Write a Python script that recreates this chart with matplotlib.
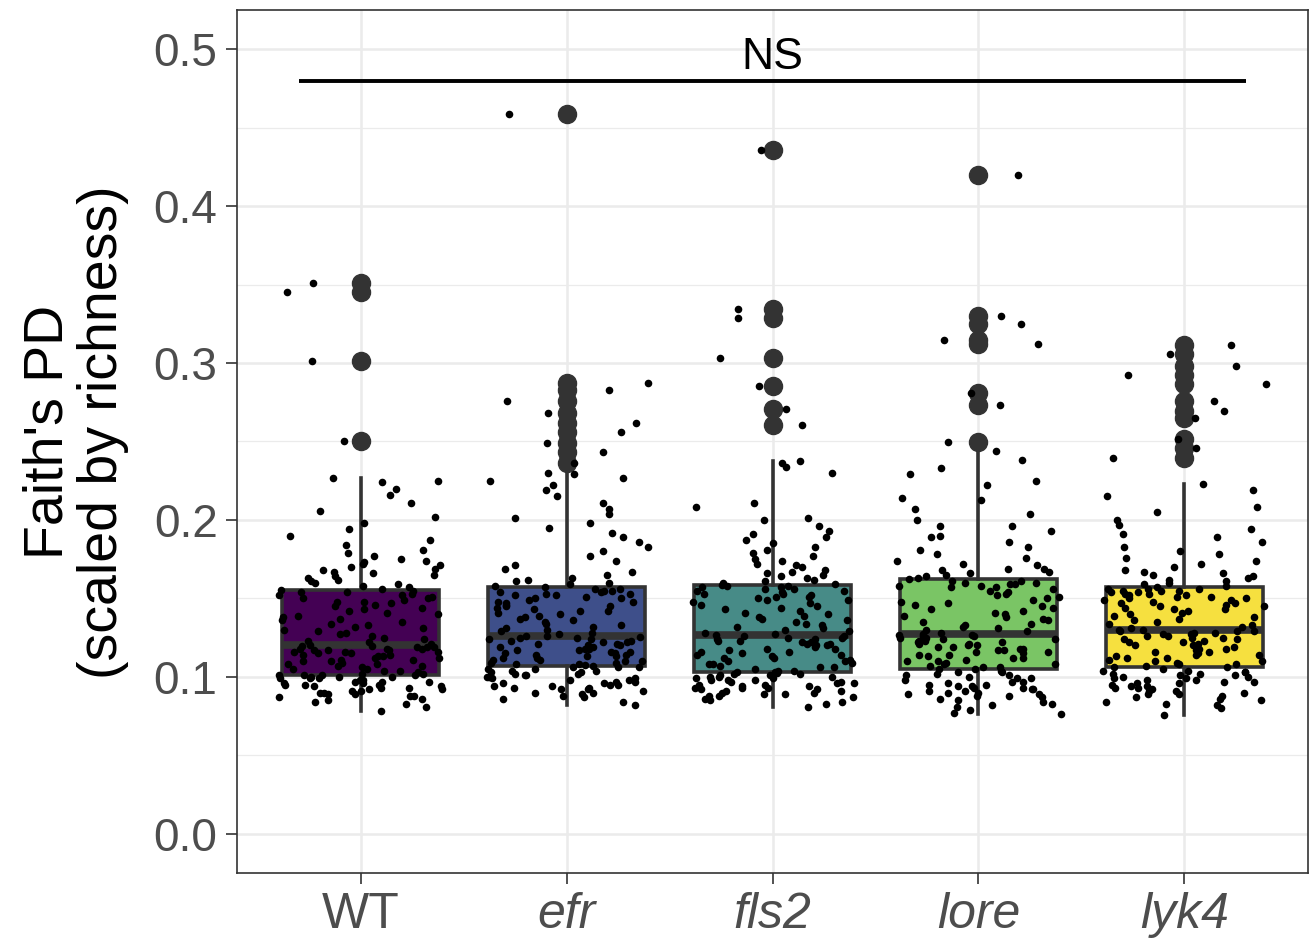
import numpy as np
import matplotlib
matplotlib.use("Agg")
import matplotlib.pyplot as plt
from matplotlib.ticker import MultipleLocator

plt.rcParams['font.family'] = ['Liberation Sans', 'DejaVu Sans']

# Faith's PD (scaled by richness) per genotype
genotypes = ["WT", "efr", "fls2", "lore", "lyk4"]
italic = [False, True, True, True, True]
box_colors = ["#440154", "#3E4F8A", "#478B87", "#7AC565", "#F6E03F"]

wt = [
    0.078, 0.081, 0.083, 0.084, 0.085, 0.086, 0.087, 0.088, 0.088, 0.089,
    0.089, 0.090, 0.090, 0.091, 0.091, 0.092, 0.092, 0.093, 0.093, 0.094,
    0.094, 0.095, 0.095, 0.095, 0.096, 0.096, 0.097, 0.097, 0.097, 0.098,
    0.098, 0.099, 0.099, 0.099, 0.100, 0.100, 0.100, 0.101, 0.101, 0.101,
    0.1015,
    0.102, 0.102, 0.103, 0.104, 0.104, 0.105, 0.105, 0.106, 0.107, 0.107,
    0.108, 0.108, 0.109, 0.110, 0.110, 0.111, 0.111, 0.112, 0.112, 0.113,
    0.113, 0.114, 0.114, 0.115, 0.115, 0.116, 0.116, 0.116, 0.117, 0.117,
    0.117, 0.118, 0.118, 0.118, 0.119, 0.119, 0.119, 0.1195, 0.1198,
    0.120,
    0.121, 0.122, 0.123, 0.124, 0.125, 0.126, 0.127, 0.128, 0.129, 0.130,
    0.131, 0.132, 0.133, 0.134, 0.135, 0.136, 0.137, 0.138, 0.139, 0.140,
    0.141, 0.142, 0.143, 0.144, 0.145, 0.146, 0.147, 0.148, 0.148, 0.149,
    0.150, 0.150, 0.151, 0.152, 0.152, 0.153, 0.154, 0.154, 0.155,
    0.1555,
    0.156, 0.157, 0.158, 0.159, 0.160, 0.161, 0.162, 0.163, 0.164, 0.165,
    0.166, 0.167, 0.168, 0.169, 0.170, 0.171, 0.172, 0.173, 0.174, 0.175,
    0.177, 0.179, 0.181, 0.184, 0.187, 0.190, 0.194, 0.198, 0.202, 0.206,
    0.211, 0.216, 0.220, 0.224, 0.225, 0.2265,
    0.2506, 0.301, 0.345, 0.351,
]

efr = [
    0.082, 0.084, 0.086, 0.087, 0.088, 0.089, 0.090, 0.090, 0.091, 0.092,
    0.092, 0.093, 0.093, 0.094, 0.094, 0.095, 0.095, 0.096, 0.096, 0.097,
    0.097, 0.098, 0.098, 0.099, 0.099, 0.100, 0.100, 0.101, 0.101, 0.102,
    0.102, 0.103, 0.103, 0.104, 0.104, 0.105, 0.105, 0.106, 0.106, 0.1065,
    0.107,
    0.1075, 0.108, 0.108, 0.109, 0.109, 0.110, 0.110, 0.111, 0.111, 0.112,
    0.112, 0.113, 0.113, 0.114, 0.114, 0.115, 0.115, 0.116, 0.116, 0.117,
    0.117, 0.118, 0.118, 0.119, 0.119, 0.120, 0.120, 0.121, 0.121, 0.122,
    0.122, 0.123, 0.123, 0.124, 0.124, 0.125, 0.125, 0.1255, 0.1258,
    0.126,
    0.127, 0.128, 0.129, 0.130, 0.131, 0.132, 0.133, 0.134, 0.135, 0.136,
    0.137, 0.138, 0.139, 0.140, 0.141, 0.142, 0.142, 0.143, 0.144, 0.145,
    0.145, 0.146, 0.147, 0.148, 0.148, 0.149, 0.150, 0.150, 0.151, 0.152,
    0.152, 0.153, 0.153, 0.154, 0.154, 0.155, 0.155, 0.156, 0.156,
    0.157,
    0.158, 0.159, 0.160, 0.161, 0.162, 0.163, 0.165, 0.167, 0.169, 0.171,
    0.174, 0.177, 0.180, 0.183, 0.186, 0.189, 0.192, 0.195, 0.198, 0.201,
    0.204, 0.207, 0.211, 0.215, 0.219, 0.222, 0.225, 0.227, 0.229, 0.230,
    0.236, 0.243, 0.249, 0.256, 0.262, 0.268, 0.276, 0.283, 0.287, 0.459,
]

fls2 = [
    0.081, 0.083, 0.084, 0.085, 0.086, 0.087, 0.088, 0.088, 0.089, 0.089,
    0.090, 0.090, 0.091, 0.091, 0.092, 0.092, 0.093, 0.093, 0.093, 0.094,
    0.094, 0.095, 0.095, 0.096, 0.096, 0.097, 0.097, 0.098, 0.098, 0.098,
    0.099, 0.099, 0.100, 0.100, 0.100, 0.101, 0.101, 0.102, 0.102, 0.1025,
    0.1028,
    0.103, 0.104, 0.104, 0.105, 0.106, 0.106, 0.107, 0.108, 0.108, 0.109,
    0.110, 0.110, 0.111, 0.112, 0.112, 0.113, 0.114, 0.114, 0.115, 0.116,
    0.116, 0.117, 0.118, 0.118, 0.119, 0.120, 0.120, 0.121, 0.121, 0.122,
    0.122, 0.123, 0.123, 0.124, 0.124, 0.125, 0.125, 0.126, 0.126,
    0.1265,
    0.127, 0.128, 0.129, 0.130, 0.131, 0.132, 0.133, 0.134, 0.135, 0.136,
    0.137, 0.138, 0.139, 0.140, 0.141, 0.142, 0.143, 0.144, 0.145, 0.146,
    0.147, 0.148, 0.149, 0.149, 0.150, 0.151, 0.151, 0.152, 0.153, 0.153,
    0.154, 0.155, 0.155, 0.156, 0.156, 0.157, 0.157, 0.158, 0.158,
    0.1587,
    0.159, 0.160, 0.161, 0.162, 0.163, 0.164, 0.165, 0.166, 0.167, 0.168,
    0.170, 0.171, 0.172, 0.174, 0.175, 0.177, 0.179, 0.181, 0.183, 0.185,
    0.187, 0.189, 0.191, 0.193, 0.196, 0.200, 0.201, 0.208, 0.211, 0.230,
    0.234, 0.236, 0.2373,
    0.2602, 0.2706, 0.2855, 0.3034, 0.329, 0.3343, 0.4356,
]

lore = [
    0.0765, 0.077, 0.079, 0.081, 0.082, 0.083, 0.084, 0.085, 0.086, 0.087,
    0.088, 0.088, 0.089, 0.089, 0.090, 0.090, 0.091, 0.091, 0.092, 0.092,
    0.093, 0.093, 0.094, 0.094, 0.095, 0.095, 0.096, 0.097, 0.097, 0.098,
    0.099, 0.099, 0.100, 0.101, 0.101, 0.102, 0.103, 0.103, 0.104, 0.105,
    0.1053,
    0.106, 0.106, 0.107, 0.108, 0.108, 0.109, 0.110, 0.110, 0.111, 0.112,
    0.112, 0.113, 0.114, 0.114, 0.115, 0.116, 0.116, 0.117, 0.117, 0.118,
    0.118, 0.119, 0.119, 0.120, 0.120, 0.121, 0.121, 0.122, 0.122, 0.123,
    0.123, 0.124, 0.124, 0.125, 0.125, 0.126, 0.126, 0.1265, 0.1268,
    0.127,
    0.128, 0.129, 0.130, 0.131, 0.132, 0.133, 0.134, 0.135, 0.136, 0.137,
    0.138, 0.139, 0.140, 0.141, 0.142, 0.143, 0.144, 0.145, 0.146, 0.147,
    0.148, 0.149, 0.150, 0.151, 0.152, 0.153, 0.154, 0.155, 0.156, 0.157,
    0.157, 0.158, 0.158, 0.159, 0.159, 0.160, 0.160, 0.161, 0.161,
    0.1622,
    0.163, 0.164, 0.165, 0.166, 0.167, 0.168, 0.169, 0.169, 0.171, 0.172,
    0.174, 0.176, 0.178, 0.181, 0.183, 0.186, 0.189, 0.190, 0.193, 0.196,
    0.196, 0.200, 0.204, 0.207, 0.213, 0.214, 0.222, 0.225, 0.229, 0.233,
    0.238, 0.244,
    0.250, 0.2734, 0.2806, 0.312, 0.3147, 0.325, 0.330, 0.4198,
]

lyk4 = [
    0.076, 0.080, 0.082, 0.083, 0.084, 0.085, 0.086, 0.087, 0.088, 0.089,
    0.089, 0.090, 0.091, 0.091, 0.092, 0.093, 0.093, 0.094, 0.094, 0.095,
    0.096, 0.096, 0.097, 0.097, 0.098, 0.098, 0.099, 0.099, 0.100, 0.100,
    0.101, 0.101, 0.102, 0.102, 0.103, 0.103, 0.104, 0.104, 0.105, 0.106,
    0.1064,
    0.107, 0.108, 0.108, 0.109, 0.110, 0.110, 0.111, 0.112, 0.112, 0.113,
    0.114, 0.114, 0.115, 0.116, 0.116, 0.117, 0.118, 0.118, 0.119, 0.120,
    0.120, 0.121, 0.122, 0.122, 0.123, 0.124, 0.124, 0.125, 0.125, 0.126,
    0.126, 0.127, 0.127, 0.128, 0.128, 0.129, 0.129, 0.1295, 0.1298,
    0.130,
    0.131, 0.132, 0.133, 0.134, 0.135, 0.136, 0.137, 0.138, 0.139, 0.140,
    0.141, 0.142, 0.143, 0.143, 0.144, 0.145, 0.145, 0.146, 0.147, 0.147,
    0.148, 0.149, 0.149, 0.150, 0.150, 0.151, 0.151, 0.152, 0.152, 0.153,
    0.153, 0.154, 0.154, 0.155, 0.155, 0.155, 0.156, 0.156, 0.156,
    0.157,
    0.158, 0.159, 0.160, 0.161, 0.162, 0.163, 0.164, 0.165, 0.166, 0.167,
    0.168, 0.170, 0.172, 0.174, 0.176, 0.178, 0.180, 0.183, 0.186, 0.189,
    0.191, 0.194, 0.197, 0.200, 0.205, 0.208, 0.215, 0.219, 0.2227,
    0.2398, 0.2460, 0.2513, 0.2648, 0.2692, 0.2756, 0.2868, 0.2925, 0.2978,
    0.306, 0.3115,
]

groups = [wt, efr, fls2, lore, lyk4]

# significance bracket across all genotypes
sig_label = "NS"
sig_y = 0.48

GREY20 = "#333333"
GRID = "#EBEBEB"

fig = plt.figure(figsize=(13.1, 9.42), dpi=100)
ax = fig.add_axes([237 / 1310, 69 / 942, 1071 / 1310, 863 / 942])

positions = np.arange(1, len(genotypes) + 1)
bp = ax.boxplot(
    groups, positions=positions, widths=0.76, whis=1.5, patch_artist=True,
    boxprops=dict(edgecolor=GREY20, linewidth=2.6),
    medianprops=dict(color=GREY20, linewidth=5.5, solid_capstyle="butt"),
    whiskerprops=dict(color=GREY20, linewidth=2.6),
    capprops=dict(linewidth=0),
    flierprops=dict(marker="o", markersize=13, markerfacecolor=GREY20,
                    markeredgecolor=GREY20),
    zorder=2,
)
for patch, c in zip(bp["boxes"], box_colors):
    patch.set_facecolor(c)

# horizontal jitter only (width 0.4 each side), fixed seed so the layout is stable
rng = np.random.default_rng(7)
for pos, vals in zip(positions, groups):
    offs = rng.uniform(-0.4, 0.4, len(vals))
    ax.scatter(pos + offs, vals, s=30, color="black", linewidths=0, zorder=3)

ax.plot([0.7, 5.3], [sig_y, sig_y], color="black", linewidth=2.8,
        solid_capstyle="butt", zorder=4)
ax.text(3, 0.4873, sig_label, ha="center", va="baseline", fontsize=32,
        color="black", zorder=4)

ax.set_xlim(0.4, 5.6)
ax.set_ylim(-0.025, 0.525)
ax.yaxis.set_major_locator(MultipleLocator(0.1))
ax.yaxis.set_minor_locator(MultipleLocator(0.05))
ax.set_yticks(np.arange(0, 0.51, 0.1))
ax.set_yticklabels([f"{v:.1f}" for v in np.arange(0, 0.51, 0.1)])
ax.set_xticks(positions)
ax.set_xticklabels(genotypes)
for lab, it in zip(ax.get_xticklabels(), italic):
    lab.set_fontstyle("italic" if it else "normal")
    lab.set_fontsize(36)
    lab.set_color("#4D4D4D")
for lab in ax.get_yticklabels():
    lab.set_fontsize(33)
    lab.set_color("#4D4D4D")

ax.grid(which="major", axis="both", color=GRID, linewidth=1.8, zorder=0)
ax.grid(which="minor", axis="y", color=GRID, linewidth=0.9, zorder=0)
ax.set_axisbelow(True)
ax.tick_params(axis="both", which="major", length=8, width=1.2, color=GREY20, pad=6)
ax.tick_params(axis="y", which="minor", length=0)
ax.tick_params(axis="x", which="minor", bottom=False)
for sp in ax.spines.values():
    sp.set_color(GREY20)
    sp.set_linewidth(1.2)

fig.text(76 / 1310, (942 - 432) / 942, "Faith's PD\n(scaled by richness)",
         rotation=90, ha="center", va="center", multialignment="center",
         fontsize=40, linespacing=1.05)

fig.savefig("out.png", dpi=100)
